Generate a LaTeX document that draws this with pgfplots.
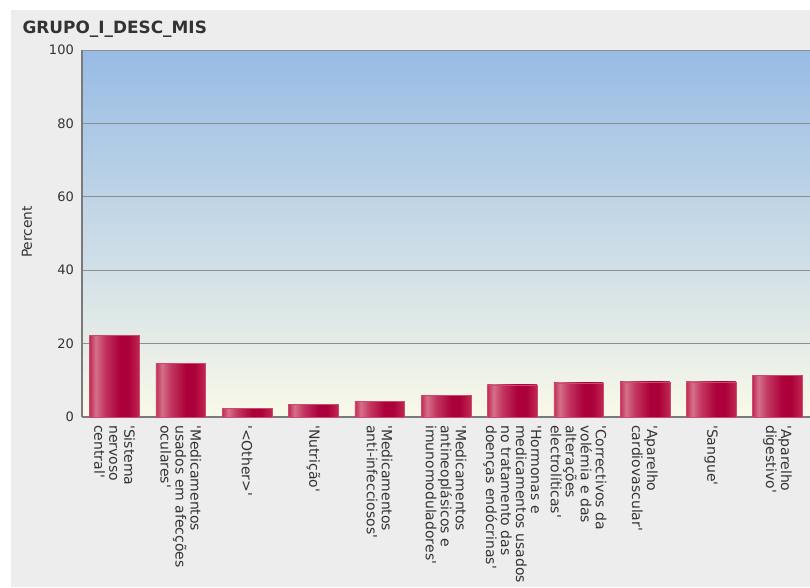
\documentclass[border=0pt]{standalone}
\usepackage{fontspec}
\setmainfont{DejaVu Sans}
\usepackage{pgfplots}
\pgfplotsset{compat=1.18}
\definecolor{panelgray}{HTML}{EDEDED}
\definecolor{bgtop}{HTML}{97BBE5}
\definecolor{bgbot}{HTML}{F9F9E8}
\definecolor{gridgray}{HTML}{8E8E8E}
\definecolor{axisgray}{HTML}{7A7A7A}
\definecolor{txt}{HTML}{333333}
\definecolor{bA}{HTML}{C22A55}
\definecolor{bB}{HTML}{D4708A}
\definecolor{bC}{HTML}{C23660}
\definecolor{bD}{HTML}{AC003A}
\definecolor{bE}{HTML}{B3123F}
\definecolor{bF}{HTML}{C02852}
\pgfdeclarehorizontalshading{barshade}{100bp}{color(0bp)=(bA); color(25bp)=(bA); color(31bp)=(bB); color(40bp)=(bC); color(55bp)=(bD); color(64bp)=(bD); color(75bp)=(bF); color(100bp)=(bF)}
\newcommand\q{\textquotesingle}
\begin{document}
\begin{tikzpicture}
\fill[white] (0,0) rectangle (810pt,-587pt);
\fill[panelgray] (11pt,-10pt) rectangle (810pt,-587pt);
\begin{axis}[
  at={(82pt,-417pt)}, anchor=south west,
  scale only axis, width=728pt, height=367pt,
  xmin=-0.49, xmax=10.49, ymin=0, ymax=100,
  ytick={0,20,40,60,80,100},
  xtick={0,1,2,3,4,5,6,7,8,9,10},
  xticklabels={
    {\q Sistema\\nervoso\\central\q},
    {\q Medicamentos\\usados em afecções\\oculares\q},
    {\q <Other>\q},
    {\q Nutrição\q},
    {\q Medicamentos\\anti-infecciosos\q},
    {\q Medicamentos\\antineoplásicos e\\imunomoduladores\q},
    {\q Hormonas e\\medicamentos usados\\no tratamento das\\doenças endócrinas\q},
    {\q Correctivos da\\volémia e das\\alterações\\electrolíticas\q},
    {\q Aparelho\\cardiovascular\q},
    {\q Sangue\q},
    {\q Aparelho\\digestivo\q}},
  xticklabel style={rotate=-90, anchor=west, align=left, inner sep=0pt, xshift=8pt,
    font=\fontsize{14}{15}\selectfont, text=txt},
  yticklabel style={font=\fontsize{13}{15}\selectfont, text=txt, inner sep=0pt, xshift=-8pt},
  /pgf/number format/assume math mode=true,
  major tick length=0pt,
  ymajorgrids, grid style={gridgray, line width=0.9pt},
  axis x line*=bottom, axis y line*=left,
  axis line style={-, axisgray, line width=1.4pt},
  axis background/.style={top color=bgtop, bottom color=bgbot},
  mybar/.style={ybar, bar width=0.75, bar shift=0pt, shading=barshade, draw=bA!85!white, line width=0.4pt},
]
\addplot[mybar] coordinates {(0,22.3)};
\addplot[mybar] coordinates {(1,14.7)};
\addplot[mybar] coordinates {(2,2.3)};
\addplot[mybar] coordinates {(3,3.4)};
\addplot[mybar] coordinates {(4,4.2)};
\addplot[mybar] coordinates {(5,5.9)};
\addplot[mybar] coordinates {(6,8.8)};
\addplot[mybar] coordinates {(7,9.3)};
\addplot[mybar] coordinates {(8,9.6)};
\addplot[mybar] coordinates {(9,9.6)};
\addplot[mybar] coordinates {(10,11.4)};
\end{axis}
\node[anchor=base west, font=\fontsize{16.9}{18}\bfseries, text=txt] at (19pt,-33pt) {GRUPO\_I\_DESC\_MIS};
\node[rotate=90, font=\fontsize{13.8}{15}\selectfont, text=txt] at (27pt,-232pt) {Percent};
\pgfresetboundingbox
\useasboundingbox (0,0) rectangle (810pt,-587pt);
\end{tikzpicture}
\end{document}
